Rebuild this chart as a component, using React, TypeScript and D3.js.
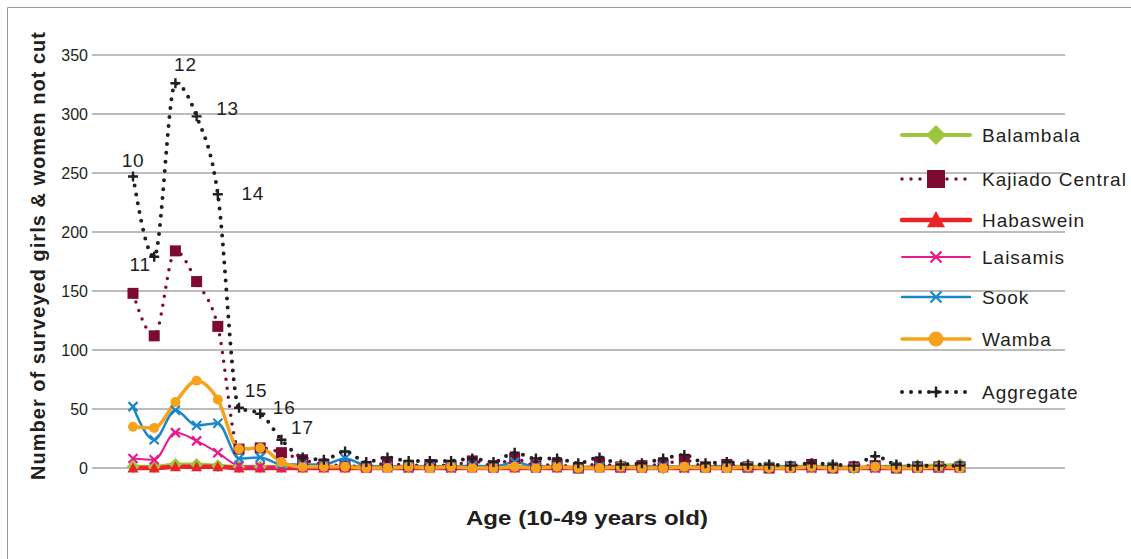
import React from "react";
import * as d3 from "d3";

const ages = [10,11,12,13,14,15,16,17,18,19,20,21,22,23,24,25,26,27,28,29,30,31,32,33,34,35,36,37,38,39,40,41,42,43,44,45,46,47,48,49];

const balambala = [1,1,3,3,2,1,1,1,1,1,1,1,1,1,1,1,1,1,1,1,1,0,1,1,1,0,1,1,1,1,1,1,1,1,0,1,1,2,2,3];
const kajiado = [148,112,184,158,120,16,17,13,7,3,2,1,4,2,3,2,6,2,8,2,3,0,4,1,2,3,7,1,3,1,0,1,3,0,1,2,0,1,1,1];
const habaswein = [0,0,1,1,1,0,0,0,0,0,0,0,0,0,0,0,0,0,0,0,0,0,0,0,0,0,0,0,0,0,0,0,0,0,0,0,0,0,0,0];
const laisamis = [8,7,30,23,13,2,1,1,1,1,1,0,1,0,1,0,1,0,1,0,1,0,1,0,0,1,0,1,0,0,1,0,0,1,0,0,1,0,0,1];
const sook = [52,24,49,36,38,8,9,3,3,3,8,2,1,1,1,1,2,1,5,1,1,0,1,1,1,1,1,1,1,1,1,1,1,1,0,1,1,1,1,1];
const wamba = [35,34,56,74,58,16,17,5,1,1,1,0,0,1,0,1,0,0,1,0,1,0,0,1,0,0,1,0,0,1,0,0,1,0,0,1,0,0,1,0];
const aggregate = [247,179,326,298,232,51,46,24,9,7,14,5,9,6,6,6,8,5,13,8,8,4,9,3,4,8,11,4,5,3,3,2,4,3,2,10,3,2,2,2];

const yTicks = [0,50,100,150,200,250,300,350];
const labelledAges = [10,11,12,13,14,15,16,17];

const seriesNames = ["Balambala","Kajiado Central","Habaswein","Laisamis","Sook","Wamba","Aggregate"];
const seriesValues = [balambala,kajiado,habaswein,laisamis,sook,wamba,aggregate];

type Style = { color: string; width: number; dotted: boolean; marker: string; size: number; legendSize: number };
const styles: Style[] = [
  { color: "#9cc63b", width: 4, dotted: false, marker: "diamond", size: 13, legendSize: 20 },
  { color: "#7d0a32", width: 3.5, dotted: true, marker: "square", size: 11, legendSize: 18 },
  { color: "#ea2328", width: 4.5, dotted: false, marker: "triangle", size: 11, legendSize: 18 },
  { color: "#e8198b", width: 2, dotted: false, marker: "x", size: 9, legendSize: 11 },
  { color: "#1a87c9", width: 2.5, dotted: false, marker: "x", size: 9, legendSize: 11 },
  { color: "#f6a21c", width: 3.5, dotted: false, marker: "circle", size: 10, legendSize: 15 },
  { color: "#231f20", width: 4, dotted: true, marker: "plus", size: 10, legendSize: 11 },
];
const legendYs = [135, 179, 220, 257, 297, 339, 392];
const labelOffsets: [number, number][] = [[0,-16],[-14,8],[10,-19],[31,-8],[35,-1],[17,-17],[24,-6],[21,-12]];

function Marker({ type, x, y, s, color }: { type: string; x: number; y: number; s: number; color: string }) {
  const h = s / 2;
  if (type === "diamond") return <path d={`M${x},${y - h}L${x + h},${y}L${x},${y + h}L${x - h},${y}Z`} fill={color} />;
  if (type === "square") return <rect x={x - h} y={y - h} width={s} height={s} fill={color} />;
  if (type === "triangle") return <path d={`M${x},${y - h}L${x + h},${y + h * 0.8}L${x - h},${y + h * 0.8}Z`} fill={color} />;
  if (type === "circle") return <circle cx={x} cy={y} r={h} fill={color} />;
  if (type === "x") return <path d={`M${x - h},${y - h}L${x + h},${y + h}M${x - h},${y + h}L${x + h},${y - h}`} stroke={color} strokeWidth={2.2} />;
  return <path d={`M${x - h},${y}L${x + h},${y}M${x},${y - h}L${x},${y + h}`} stroke={color} strokeWidth={2.4} />;
}

export default function App() {
  const W = 1131, H = 559;
  const x = d3.scaleLinear().domain([10, 49]).range([133, 960]);
  const y = d3.scaleLinear().domain([0, 350]).range([468, 55]);
  const line = d3.line<number>().x((_, i) => x(ages[i])).y(v => y(v)).curve(d3.curveMonotoneX);
  const font = "'Liberation Sans', Arial, Helvetica, sans-serif";

  return (
    <svg width={W} height={H} style={{ position: "absolute", left: 0, top: 0 }} fontFamily={font}>
      <rect width={W} height={H} fill="#fff" />
      <line x1={7.5} y1={7.5} x2={W} y2={7.5} stroke="#9a9a9a" strokeWidth={1} />
      <line x1={7.5} y1={7.5} x2={7.5} y2={H} stroke="#9a9a9a" strokeWidth={1} />
      {yTicks.map(t => (
        <g key={t}>
          <line x1={92} x2={1065} y1={y(t)} y2={y(t)} stroke="#a6a6a6" strokeWidth={1.5} />
          <text x={88} y={y(t)} dy="0.35em" textAnchor="end" fontSize={16} fill="#231f20">{t}</text>
        </g>
      ))}
      {seriesValues.map((vals, si) => {
        const st = styles[si];
        return (
          <path key={"l" + si} d={line(vals) || ""} fill="none" stroke={st.color} strokeWidth={st.width}
            strokeLinecap="round" strokeLinejoin="round" strokeDasharray={st.dotted ? "0 9" : undefined} />
        );
      })}
      {seriesValues.map((vals, si) => (
        <g key={"m" + si}>
          {vals.map((v, i) => (
            <Marker key={i} type={styles[si].marker} x={x(ages[i])} y={y(v)} s={styles[si].size} color={styles[si].color} />
          ))}
        </g>
      ))}
      {labelledAges.map((a, i) => {
        const v = aggregate[ages.indexOf(a)];
        return (
          <text key={a} x={x(a) + labelOffsets[i][0]} y={y(v) + labelOffsets[i][1]} dy="0.35em" textAnchor="middle" fontSize={19} letterSpacing={0.8} fill="#231f20">{a}</text>
        );
      })}
      {seriesNames.map((n, si) => {
        const st = styles[si];
        const ly = legendYs[si];
        return (
          <g key={n}>
            <line x1={902} x2={970} y1={ly} y2={ly} stroke={st.color} strokeWidth={st.width}
              strokeLinecap="round" strokeDasharray={st.dotted ? "0 9" : undefined} />
            <Marker type={st.marker} x={936} y={ly} s={st.legendSize} color={st.color} />
            <text x={982} y={ly} dy="0.35em" fontSize={19} letterSpacing={1} fill="#231f20">{n}</text>
          </g>
        );
      })}
      <text x={587} y={518} dy="0.35em" textAnchor="middle" fontSize={21} fontWeight="bold" textLength={242} lengthAdjust="spacingAndGlyphs" fill="#231f20">Age (10-49 years old)</text>
      <text transform="translate(38,256) rotate(-90)" dy="0.35em" textAnchor="middle" fontSize={20} fontWeight="bold" textLength={448} lengthAdjust="spacing" fill="#231f20">Number of surveyed girls &amp; women not cut</text>
    </svg>
  );
}
